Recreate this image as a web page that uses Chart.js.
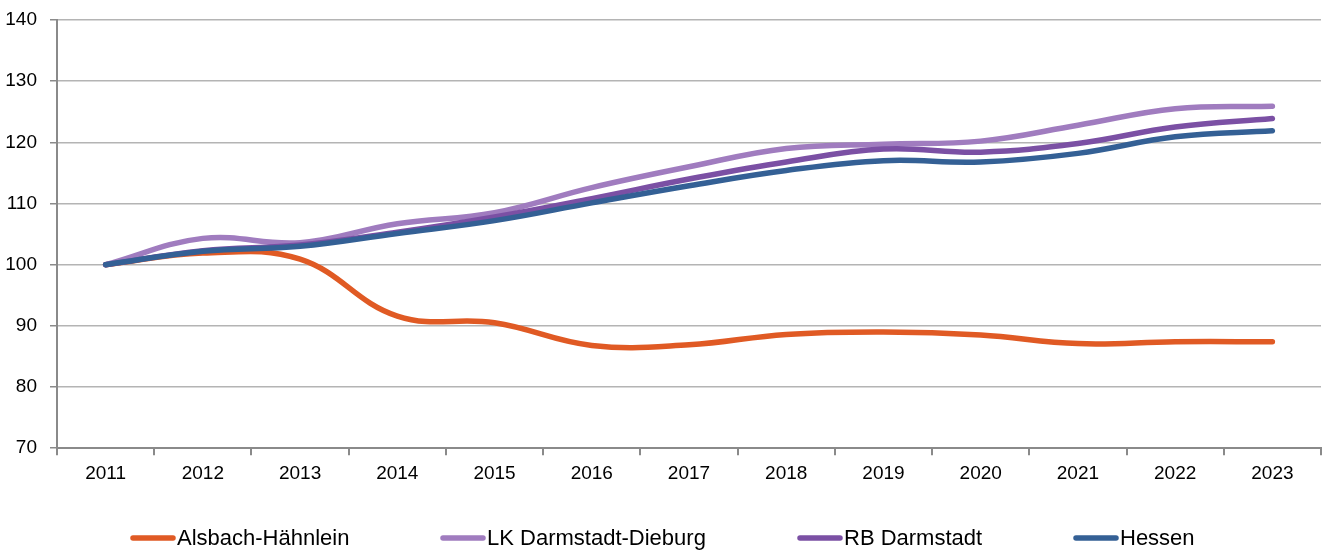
<!DOCTYPE html>
<html>
<head>
<meta charset="utf-8">
<script src="https://cdn.jsdelivr.net/npm/chart.js@4"></script>
<style>
html,body{margin:0;padding:0;background:#fff;}
#wrap{position:relative;width:1327px;height:556px;}
</style>
</head>
<body>
<div id="wrap"><canvas id="c" width="1327" height="556"></canvas></div>
<script>
const years = ['2011','2012','2013','2014','2015','2016','2017','2018','2019','2020','2021','2022','2023'];
const alsbach = [100, 101.9, 100.9, 91.6, 90.5, 86.8, 86.9, 88.6, 89.0, 88.5, 87.1, 87.4, 87.4];
const lkDarmstadt = [100, 104.3, 103.6, 106.7, 108.5, 112.6, 116.0, 119.0, 119.7, 120.2, 122.8, 125.5, 125.9];
const rbDarmstadt = [100, 102.3, 103.2, 105.3, 107.8, 110.8, 114.0, 116.8, 118.9, 118.4, 119.8, 122.5, 123.9];
const hessen = [100, 102.2, 103.0, 105.1, 107.2, 110.1, 112.9, 115.4, 117.0, 116.8, 118.2, 120.9, 121.9];
const yTicks = [70, 80, 90, 100, 110, 120, 130, 140];

const FONT = "'Liberation Sans', Arial, sans-serif";
const legendSlots = [130, 440, 797, 1073];

function ds(label, data, color, order) {
  return {
    label, data, borderColor: color, backgroundColor: color,
    borderWidth: 5.5, pointRadius: 0, tension: 0.4,
    borderCapStyle: 'round', borderJoinStyle: 'round', order, fill: false
  };
}

const customLegend = {
  id: 'customLegend',
  afterDraw(chart) {
    const ctx = chart.ctx;
    const y = 538;
    ctx.save();
    chart.data.datasets.forEach((d, i) => {
      const x = legendSlots[i];
      ctx.strokeStyle = d.borderColor;
      ctx.lineWidth = 5.5;
      ctx.lineCap = 'round';
      ctx.beginPath();
      ctx.moveTo(x + 3, y);
      ctx.lineTo(x + 43, y);
      ctx.stroke();
      ctx.fillStyle = '#000';
      ctx.font = '22px ' + FONT;
      ctx.textBaseline = 'middle';
      ctx.textAlign = 'left';
      ctx.fillText(d.label, x + 47, y + 1);
    });
    ctx.restore();
  }
};

new Chart(document.getElementById('c'), {
  type: 'line',
  data: {
    labels: years,
    datasets: [
      ds('Alsbach-Hähnlein', alsbach, '#E05A24', 4),
      ds('LK Darmstadt-Dieburg', lkDarmstadt, '#A07CBF', 3),
      ds('RB Darmstadt', rbDarmstadt, '#7B50A4', 2),
      ds('Hessen', hessen, '#346095', 1)
    ]
  },
  plugins: [customLegend],
  options: {
    responsive: false,
    animation: false,
    layout: { padding: { top: 20, right: 6, left: 4, bottom: 64 } },
    plugins: {
      tooltip: { enabled: false },
      legend: { display: false }
    },
    scales: {
      x: {
        offset: true,
        grid: { offset: true, drawOnChartArea: false, drawTicks: true, tickLength: 7, color: '#8a8a8a', lineWidth: 2 },
        border: { color: '#8a8a8a', width: 2 },
        ticks: { color: '#000', font: { family: FONT, size: 19 }, padding: 7, maxRotation: 0 }
      },
      y: {
        min: 70, max: 140,
        afterBuildTicks: (axis) => { axis.ticks = yTicks.map(v => ({ value: v })); },
        afterFit: (axis) => { axis.width = 53; axis.paddingTop = 0; axis.paddingBottom = 0; },
        grid: { color: '#b4b4b4', lineWidth: 1.5, tickLength: 7, tickColor: '#8a8a8a' },
        border: { color: '#8a8a8a', width: 2 },
        ticks: { color: '#000', font: { family: FONT, size: 19, lineHeight: 0.5 }, padding: 13 }
      }
    }
  }
});
</script>
</body>
</html>
